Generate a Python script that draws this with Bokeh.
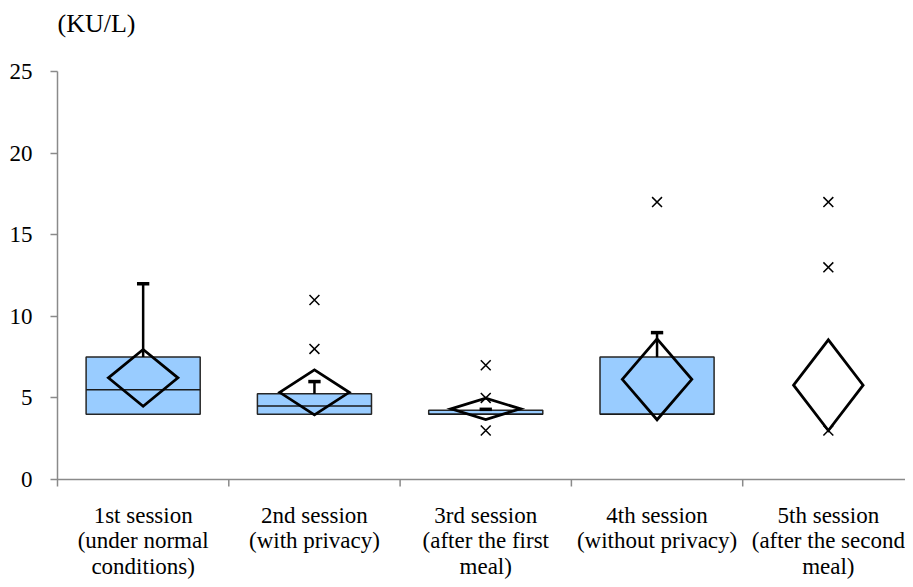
import numpy as np
from bokeh.plotting import figure
from bokeh.models import Range1d, FixedTicker, ColumnDataSource
from bokeh.core.properties import value
from bokeh.embed import file_html
from bokeh.resources import INLINE

# ---- data ----
categories = [
    "1st session\n(under normal\nconditions)",
    "2nd session\n(with privacy)",
    "3rd session\n(after the first\nmeal)",
    "4th session\n(without privacy)",
    "5th session\n(after the second\nmeal)",
]
q1 = [4.0, 4.0, 4.0, 4.0, np.nan]
median = [5.5, 4.5, 4.0, 4.0, np.nan]
q3 = [7.5, 5.25, 4.25, 7.5, np.nan]
upper = [12.0, 6.0, 4.3, 9.0, np.nan]
mean = [6.23, 5.34, 4.33, 6.14, 5.78]
spread = [1.74, 1.38, 0.65, 2.48, 2.78]
outlier_cat = [1, 1, 2, 2, 2, 3, 4, 4, 4]
outlier_val = [11.0, 8.0, 7.0, 5.0, 3.0, 17.0, 17.0, 13.0, 3.0]
y_ticks = [0, 5, 10, 15, 20, 25]
unit_label = "(KU/L)"

# ---- layout / styles ----
FONT = "'Liberation Serif', 'Times New Roman', serif"
BOX_HALF = 0.333
DIA_HALF = 0.203
CAP_HALF = 0.036
AXIS_GRAY = "#8a8a8a"
W, H = 905, 579
LEFT, TOP0 = 57, 71          # px position of x=0 axis and of y=25
PX_PER_Y = 16.32             # px per y unit
PX_PER_CAT = 171.3           # px per category
Y_MAX = 25
y_top = Y_MAX + TOP0 / PX_PER_Y
y_bot = y_top - H / PX_PER_Y
x_end = (W - LEFT) / PX_PER_CAT
tick_len = 7 / PX_PER_Y

centers = np.arange(len(categories)) + 0.5
q1a, meda, q3a, upa = map(np.array, (q1, median, q3, upper))
has_box = ~np.isnan(q1a)
cx = centers[has_box]

p = figure(width=W, height=H, output_backend="svg", toolbar_location=None,
           x_range=Range1d(0, x_end), y_range=Range1d(y_bot, y_top),
           min_border_left=LEFT, min_border_right=0, min_border_top=0,
           min_border_bottom=0)
p.outline_line_color = None
p.xgrid.visible = False
p.ygrid.visible = False
p.xaxis.visible = False
p.background_fill_color = "white"
p.border_fill_color = "white"

# x axis line and category boundary ticks
p.segment(x0=0, x1=x_end, y0=0, y1=0, line_color=AXIS_GRAY, line_width=1.5)
bounds = np.arange(1, len(categories) + 1)
p.segment(x0=bounds, x1=bounds, y0=0, y1=-tick_len, line_color=AXIS_GRAY, line_width=1.5)

# boxes
box_src = ColumnDataSource(dict(left=cx - BOX_HALF, right=cx + BOX_HALF,
                                bottom=q1a[has_box], top=q3a[has_box]))
p.quad(left="left", right="right", bottom="bottom", top="top", source=box_src,
       fill_color="#99ccff", line_color="#262626", line_width=1.5)
# medians
p.segment(x0=cx - BOX_HALF, x1=cx + BOX_HALF, y0=meda[has_box], y1=meda[has_box],
          line_color="#1a1a1a", line_width=1.5)
# whiskers
p.segment(x0=cx, x1=cx, y0=q3a[has_box], y1=upa[has_box],
          line_color="black", line_width=2.5)
p.segment(x0=cx - CAP_HALF, x1=cx + CAP_HALF, y0=upa[has_box], y1=upa[has_box],
          line_color="black", line_width=3.5)

# mean diamonds
m = np.array(mean); s = np.array(spread)
xs = [[c - DIA_HALF, c, c + DIA_HALF, c] for c in centers]
ys = [[mi, mi + si, mi, mi - si] for mi, si in zip(m, s)]
p.patches(xs=xs, ys=ys, fill_color=None, line_color="black", line_width=2.75,
          line_join="miter")

# outliers
p.scatter(x=centers[np.array(outlier_cat)], y=outlier_val, marker="x", size=14,
          line_color="black", line_width=1.5)

# y axis
yax = p.yaxis[0]
yax.ticker = FixedTicker(ticks=y_ticks)
yax.bounds = (-tick_len, Y_MAX)
yax.axis_line_color = AXIS_GRAY
yax.axis_line_width = 1.5
yax.major_tick_line_color = AXIS_GRAY
yax.major_tick_line_width = 1.5
yax.major_tick_out = 7
yax.major_tick_in = 0
yax.minor_tick_line_color = None
yax.major_label_standoff = 18
yax.major_label_text_font = FONT
yax.major_label_text_font_size = "23px"
yax.major_label_text_color = "black"

# category labels below the axis
p.text(x=centers, y=[-23 / PX_PER_Y] * len(centers), text=categories,
       text_align="center", text_baseline="top", text_font=value(FONT),
       text_font_size="23px", text_line_height=1.02, text_color="black")

# unit label
p.text(x=[0], y=[Y_MAX + (TOP0 - 23) / PX_PER_Y], text=[unit_label],
       text_align="left", text_baseline="middle", text_font=value(FONT),
       text_font_size="26px", text_color="black")

open("out.html", "w").write(file_html(p, INLINE))
